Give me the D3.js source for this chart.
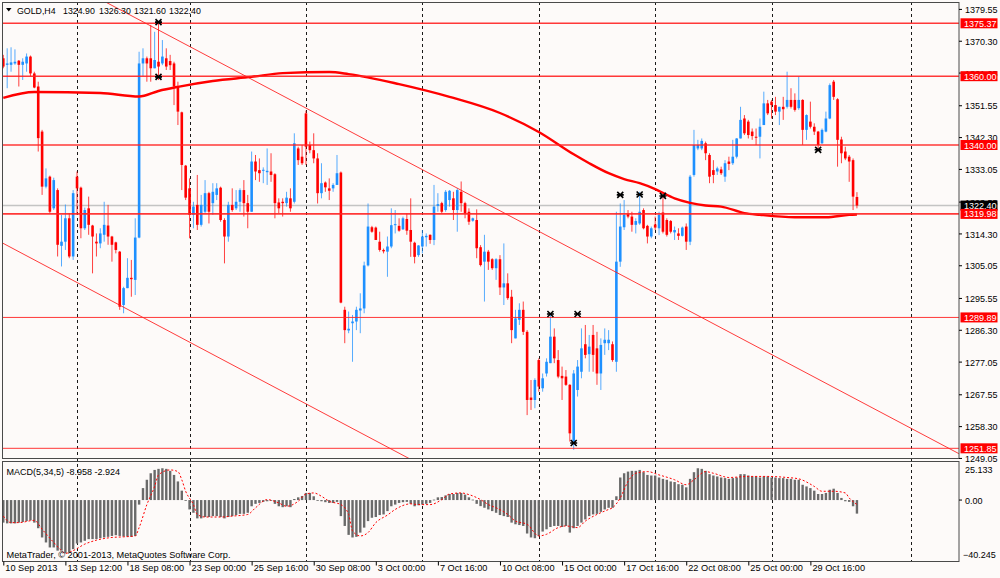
<!DOCTYPE html>
<html>
<head>
<meta charset="utf-8">
<script src="https://cdn.jsdelivr.net/npm/d3@7"></script>
<style>
    html, body { margin: 0; padding: 0; background: #fdfaf9; }
    svg { display: block; font-family: "Liberation Sans", Arial, sans-serif; }
</style>
</head>
<body>
<div id="chart"></div>
<script>
// ============================================================================
// GOLD,H4 - candles, MA, levels, channel and MACD(5,34,5) sub-window
// ============================================================================

// H4 candles, left to right (bar index = position in array)
const opens = [
    1365.2, 1363.3, 1363.3, 1363.7, 1364.5, 1363.3, 1363.7, 1365.7, 1360.8, 1357.0,
    1343.9, 1327.9, 1330.8, 1321.6, 1326.9, 1310.7, 1311.9, 1318.7, 1307.6, 1330.8,
    1327.6, 1315.8, 1321.6, 1316.6, 1311.9, 1311.4, 1313.9, 1316.6, 1313.4, 1311.7,
    1309.0, 1293.5, 1298.4, 1301.4, 1300.8, 1313.1, 1363.7, 1365.2, 1365.2, 1362.3,
    1364.2, 1363.7, 1365.2, 1364.4, 1363.7, 1357.0, 1349.5, 1334.0, 1327.4, 1319.7,
    1322.6, 1316.8, 1320.6, 1326.0, 1323.1, 1325.5, 1327.6, 1318.2, 1313.4, 1322.6,
    1321.6, 1323.5, 1326.9, 1323.1, 1320.6, 1335.2, 1332.7, 1332.5, 1332.1, 1332.3,
    1331.5, 1323.3, 1323.5, 1323.1, 1324.5, 1323.5, 1339.0, 1336.6, 1349.2, 1340.0,
    1338.5, 1336.1, 1326.0, 1329.1, 1327.4, 1327.4, 1328.4, 1332.0, 1292.1, 1286.1,
    1288.2, 1288.7, 1291.9, 1292.5, 1305.0, 1316.1, 1316.0, 1311.9, 1309.5, 1309.0,
    1310.5, 1316.7, 1316.5, 1315.5, 1318.5, 1315.3, 1311.6, 1308.0, 1310.5, 1313.2,
    1313.9, 1312.4, 1322.3, 1323.1, 1321.1, 1324.0, 1324.5, 1321.1, 1326.4, 1323.1,
    1320.6, 1318.0, 1318.2, 1310.3, 1306.1, 1309.0, 1306.8, 1304.2, 1306.8, 1298.6,
    1299.8, 1295.9, 1283.8, 1289.2, 1292.1, 1285.7, 1266.6, 1265.9, 1277.5, 1269.3,
    1273.6, 1276.6, 1284.3, 1277.5, 1272.9, 1272.7, 1270.3, 1253.8, 1268.8, 1274.1,
    1282.1, 1279.2, 1284.8, 1280.9, 1273.6, 1282.4, 1282.4, 1282.1, 1277.0, 1306.1,
    1316.1, 1319.9, 1319.2, 1316.8, 1317.2, 1321.1, 1316.5, 1313.4, 1316.9, 1315.8,
    1320.4, 1318.2, 1317.9, 1314.6, 1314.3, 1313.6, 1316.3, 1311.9, 1331.3, 1339.0,
    1339.0, 1340.5, 1337.1, 1332.7, 1332.3, 1332.9, 1330.8, 1335.2, 1334.7, 1336.6,
    1341.9, 1347.7, 1346.8, 1343.9, 1342.4, 1342.4, 1345.8, 1352.1, 1352.6, 1351.6,
    1349.7, 1351.1, 1351.1, 1353.1, 1353.1, 1350.7, 1353.1, 1344.4, 1346.8, 1345.3,
    1343.9, 1340.5, 1343.9, 1347.7, 1358.4, 1353.3, 1341.6, 1338.1, 1336.6, 1335.6,
    1324.9
];
const highs = [
    1366.2, 1368.1, 1368.4, 1367.8, 1364.7, 1365.2, 1366.6, 1366.0, 1361.3, 1358.4,
    1344.4, 1333.2, 1331.1, 1330.5, 1327.4, 1319.7, 1322.7, 1320.2, 1326.9, 1332.3,
    1327.9, 1321.8, 1325.0, 1316.8, 1314.3, 1315.8, 1323.5, 1322.6, 1313.6, 1311.9,
    1309.2, 1298.8, 1307.1, 1306.6, 1318.7, 1367.1, 1368.1, 1365.7, 1374.9, 1372.9,
    1375.8, 1370.5, 1368.1, 1366.2, 1364.2, 1358.4, 1349.7, 1334.2, 1330.3, 1323.5,
    1331.3, 1325.5, 1329.8, 1326.4, 1328.9, 1328.9, 1327.9, 1318.7, 1323.5, 1327.4,
    1326.9, 1327.4, 1329.8, 1325.5, 1338.1, 1337.1, 1336.1, 1333.5, 1339.0, 1337.6,
    1331.8, 1324.5, 1324.5, 1326.4, 1327.4, 1343.4, 1339.5, 1340.0, 1350.0, 1341.0,
    1343.4, 1337.6, 1334.7, 1329.4, 1330.3, 1328.9, 1337.1, 1332.3, 1293.0, 1291.6,
    1290.6, 1293.0, 1296.9, 1306.1, 1323.0, 1316.5, 1316.3, 1314.8, 1309.9, 1313.4,
    1321.6, 1321.1, 1318.7, 1319.2, 1320.1, 1324.5, 1311.9, 1310.9, 1315.3, 1314.3,
    1314.0, 1328.4, 1326.0, 1323.5, 1326.9, 1326.9, 1326.4, 1327.4, 1329.4, 1323.5,
    1321.6, 1318.9, 1321.3, 1310.9, 1313.9, 1309.5, 1307.1, 1307.1, 1308.0, 1311.4,
    1302.7, 1297.9, 1292.1, 1294.0, 1294.5, 1286.2, 1271.7, 1272.2, 1278.0, 1273.6,
    1278.0, 1291.1, 1286.7, 1280.4, 1275.6, 1274.6, 1270.5, 1274.6, 1277.5, 1286.7,
    1287.7, 1284.8, 1287.7, 1285.7, 1283.8, 1286.7, 1286.2, 1282.9, 1320.6, 1323.0,
    1324.0, 1321.1, 1320.6, 1318.7, 1326.4, 1321.6, 1316.8, 1316.3, 1319.2, 1320.6,
    1325.5, 1318.7, 1318.2, 1316.3, 1315.8, 1316.3, 1317.2, 1331.3, 1344.4, 1341.5,
    1341.9, 1341.0, 1337.6, 1335.6, 1333.7, 1333.7, 1335.6, 1336.6, 1341.5, 1342.0,
    1351.1, 1348.7, 1347.3, 1344.8, 1344.8, 1347.7, 1355.5, 1353.1, 1353.1, 1354.0,
    1351.1, 1354.0, 1361.3, 1356.5, 1355.0, 1359.9, 1353.3, 1348.9, 1352.6, 1346.3,
    1344.1, 1344.8, 1349.7, 1357.9, 1358.9, 1353.6, 1342.4, 1339.5, 1337.1, 1336.1,
    1326.3
];
const lows = [
    1362.3, 1356.5, 1361.3, 1363.3, 1357.0, 1358.9, 1361.3, 1359.9, 1356.5, 1338.1,
    1325.5, 1327.4, 1320.2, 1321.1, 1307.6, 1304.7, 1309.5, 1307.1, 1306.6, 1319.7,
    1312.9, 1315.3, 1313.9, 1302.7, 1307.6, 1310.0, 1311.9, 1311.0, 1306.1, 1308.5,
    1292.1, 1291.1, 1298.4, 1295.9, 1296.4, 1312.9, 1359.9, 1358.4, 1358.4, 1362.3,
    1358.9, 1363.2, 1361.8, 1361.8, 1351.6, 1345.8, 1326.9, 1324.0, 1312.9, 1315.8,
    1315.3, 1316.3, 1320.2, 1317.2, 1319.7, 1324.0, 1317.7, 1305.6, 1311.9, 1320.6,
    1321.1, 1320.6, 1319.2, 1315.8, 1320.6, 1329.8, 1329.3, 1328.9, 1328.4, 1329.3,
    1318.7, 1320.2, 1319.2, 1322.1, 1320.6, 1323.0, 1334.2, 1334.2, 1334.2, 1337.6,
    1334.7, 1323.0, 1324.5, 1326.4, 1324.0, 1326.4, 1328.4, 1294.0, 1282.4, 1285.3,
    1277.0, 1286.2, 1285.3, 1291.1, 1304.7, 1314.5, 1312.4, 1309.0, 1308.5, 1301.7,
    1310.0, 1314.3, 1314.8, 1315.3, 1313.9, 1307.5, 1305.6, 1307.5, 1308.5, 1310.5,
    1311.3, 1310.9, 1320.6, 1320.1, 1320.6, 1322.1, 1318.2, 1314.8, 1320.6, 1318.7,
    1316.8, 1317.7, 1307.1, 1304.7, 1294.5, 1303.7, 1303.7, 1300.8, 1296.4, 1293.5,
    1295.0, 1282.4, 1283.8, 1287.7, 1284.8, 1261.5, 1263.0, 1263.5, 1268.3, 1268.3,
    1272.7, 1276.6, 1276.6, 1272.2, 1265.9, 1270.0, 1253.8, 1251.4, 1266.9, 1272.2,
    1278.0, 1274.1, 1274.1, 1270.3, 1268.8, 1279.0, 1280.4, 1277.0, 1274.1, 1304.6,
    1315.3, 1318.7, 1314.8, 1314.3, 1316.8, 1315.5, 1311.4, 1312.9, 1315.3, 1313.8,
    1314.3, 1313.4, 1314.3, 1312.4, 1312.4, 1313.4, 1309.5, 1310.9, 1330.8, 1338.5,
    1338.5, 1335.6, 1328.9, 1328.9, 1331.3, 1331.3, 1329.3, 1332.7, 1334.2, 1336.1,
    1341.9, 1342.9, 1341.9, 1341.5, 1340.0, 1336.1, 1345.8, 1348.7, 1347.7, 1348.7,
    1345.8, 1347.3, 1350.6, 1350.6, 1349.7, 1350.2, 1340.0, 1341.5, 1344.8, 1342.9,
    1338.5, 1340.3, 1343.7, 1347.5, 1353.1, 1333.7, 1334.7, 1335.6, 1329.3, 1321.1,
    1321.6
];
const closes = [
    1362.8, 1363.7, 1364.0, 1364.2, 1363.3, 1364.2, 1365.7, 1360.8, 1356.7, 1342.0,
    1327.9, 1330.3, 1320.6, 1329.8, 1311.0, 1311.9, 1318.7, 1307.6, 1326.0, 1327.4,
    1315.8, 1321.1, 1316.8, 1313.4, 1311.4, 1314.3, 1316.8, 1313.4, 1311.0, 1309.5,
    1293.0, 1298.4, 1301.4, 1301.0, 1313.1, 1363.7, 1365.2, 1363.7, 1362.3, 1364.7,
    1362.8, 1365.7, 1362.8, 1363.2, 1357.0, 1349.7, 1334.2, 1324.7, 1319.7, 1322.1,
    1316.8, 1322.6, 1326.0, 1320.6, 1326.4, 1327.4, 1318.2, 1313.4, 1322.6, 1321.1,
    1323.5, 1326.9, 1323.1, 1320.6, 1335.2, 1332.3, 1331.8, 1332.8, 1332.5, 1331.3,
    1323.1, 1321.6, 1323.1, 1324.7, 1321.6, 1340.5, 1335.6, 1334.7, 1339.5, 1338.5,
    1336.1, 1326.0, 1328.9, 1327.7, 1326.7, 1328.4, 1331.8, 1294.2, 1286.2, 1286.6,
    1288.7, 1292.1, 1292.5, 1305.0, 1316.3, 1314.8, 1312.4, 1309.5, 1309.1, 1310.5,
    1316.7, 1317.0, 1315.1, 1318.7, 1315.1, 1311.9, 1307.5, 1310.8, 1313.4, 1313.6,
    1312.4, 1322.1, 1322.8, 1320.6, 1326.4, 1326.7, 1321.1, 1326.9, 1323.1, 1320.1,
    1317.7, 1318.7, 1310.0, 1305.1, 1309.0, 1306.1, 1304.2, 1306.8, 1298.6, 1299.8,
    1295.5, 1286.2, 1289.6, 1292.1, 1285.7, 1265.9, 1265.9, 1271.7, 1269.8, 1272.2,
    1277.0, 1284.3, 1278.0, 1272.7, 1272.2, 1270.3, 1256.2, 1273.6, 1275.6, 1280.9,
    1279.0, 1281.4, 1279.0, 1273.6, 1281.9, 1283.4, 1283.4, 1277.5, 1306.1, 1316.3,
    1319.7, 1319.2, 1316.8, 1317.9, 1320.6, 1315.8, 1313.4, 1315.8, 1316.0, 1319.7,
    1314.8, 1313.9, 1314.8, 1315.3, 1313.6, 1316.0, 1311.9, 1330.8, 1340.0, 1340.0,
    1341.2, 1337.6, 1330.8, 1331.3, 1333.2, 1331.8, 1334.7, 1334.5, 1336.6, 1341.9,
    1347.3, 1343.4, 1342.9, 1342.6, 1342.2, 1345.3, 1352.1, 1349.2, 1351.6, 1349.7,
    1351.1, 1350.4, 1353.1, 1351.1, 1350.2, 1353.1, 1344.4, 1348.7, 1345.3, 1343.9,
    1340.0, 1344.4, 1347.7, 1357.4, 1354.0, 1341.5, 1337.6, 1336.1, 1335.2, 1325.0,
    1322.4
];

// MACD(5,34,5) histogram, one value per bar
const macdHist = [
    -14.9, -15.4, -15.4, -15.4, -14.9, -14.5, -13.9, -13.4, -14.9, -18.6,
    -24.7, -28.0, -31.3, -31.3, -33.4, -33.4, -35.2, -34.6, -32.4, -28.7,
    -28.0, -26.9, -25.8, -25.8, -25.8, -25.2, -24.7, -24.3, -23.7, -23.2,
    -23.7, -24.1, -24.1, -24.3, -23.7, -3.0, 7.9, 13.4, 17.7, 19.9,
    20.6, 21.0, 20.6, 19.3, 16.6, 12.3, 6.2, -0.3, -6.2, -8.4,
    -12.1, -12.1, -11.2, -11.2, -10.6, -10.6, -11.2, -12.1, -11.2, -10.6,
    -9.9, -9.1, -9.1, -8.4, -4.1, -2.5, -1.9, -1.2, -0.8, -0.3,
    -2.5, -4.1, -4.7, -4.1, -4.7, 0.7, 1.8, 2.7, 4.7, 4.7,
    2.5, -0.3, -0.8, -1.4, -1.9, -1.9, -1.2, -10.6, -17.1, -23.0,
    -24.7, -24.3, -21.5, -18.2, -13.9, -11.7, -11.2, -9.9, -9.5, -7.3,
    -4.1, -3.0, -1.9, -1.4, -1.2, -2.5, -4.1, -3.4, -3.0, -2.5,
    -1.9, 0.3, 1.8, 2.0, 3.1, 4.0, 4.0, 4.7, 4.7, 3.6,
    1.8, 0.3, -2.5, -4.0, -5.1, -6.2, -7.3, -8.4, -9.9, -10.6,
    -11.2, -14.9, -16.0, -16.5, -17.1, -22.1, -24.7, -25.2, -23.7, -20.8,
    -19.3, -17.8, -17.1, -17.1, -17.8, -17.1, -21.5, -18.6, -17.1, -14.9,
    -12.8, -10.6, -9.5, -9.1, -7.8, -6.2, -5.1, -5.1, 2.5, 14.9,
    17.7, 18.8, 19.3, 19.3, 19.9, 18.4, 16.6, 16.2, 16.2, 14.9,
    14.0, 13.4, 12.3, 11.9, 10.5, 10.1, 8.4, 14.0, 18.4, 21.0,
    20.6, 19.3, 17.1, 16.2, 15.6, 14.9, 14.5, 14.0, 14.5, 14.9,
    17.1, 17.1, 16.2, 15.6, 15.6, 14.9, 15.6, 15.6, 14.9, 14.9,
    14.5, 14.5, 14.0, 14.0, 13.4, 13.4, 10.1, 9.0, 7.9, 6.2,
    4.0, 4.0, 4.7, 6.8, 7.5, 4.7, 1.4, -0.8, -1.2, -4.1,
    -8.958
];

// MACD signal line, read at these bars
const signalIdx = [0, 2, 4, 8, 10, 13, 15, 16, 18, 21, 24, 28, 31, 34, 35, 37, 39, 40, 43, 45,
    46, 47, 49, 50, 52, 56, 59, 63, 65, 68, 71, 73, 76, 78, 80, 82, 84, 87, 89, 90,
    92, 94, 96, 99, 101, 105, 107, 110, 113, 115, 118, 120, 123, 125, 127, 130, 132, 135, 138, 140,
    143, 145, 148, 150, 153, 156, 157, 159, 161, 163, 166, 169, 173, 176, 178, 181, 183, 187, 192, 197,
    202, 205, 209, 211, 214, 217, 218, 220];
const signalVal = [-10.6, -14.9, -14.9, -13.4, -19.3, -28.0, -33.4, -35.2, -33.4, -29.1, -26.5, -24.7, -24.3, -23.7, -18.2, -3.0, 9.0, 16.6, 19.9, 18.8,
    13.4, 5.8, -3.0, -9.5, -11.2, -11.2, -10.6, -9.5, -5.1, 0.3, -1.9, -4.1, -0.8, 4.0, 4.7, 2.5, -0.8, -3.0, -9.5, -20.4,
    -23.7, -21.5, -14.9, -9.9, -6.2, -2.5, -3.0, -3.0, 0.3, 4.0, 4.7, 3.6, 0.3, -3.0, -5.1, -9.5, -13.9, -16.0, -23.7, -22.6,
    -18.2, -17.1, -18.2, -13.9, -9.5, -6.2, -5.1, 1.4, 12.3, 17.7, 18.8, 16.6, 13.4, 10.1, 13.4, 18.8, 17.7, 14.9, 15.6, 15.6,
    14.9, 14.0, 9.0, 5.8, 5.8, 4.7, 1.4, -2.924];

// Moving average (thick red), read at these bars
const maIdx = [0, 8, 25, 35, 40, 45, 54, 64, 72, 84, 89, 102, 115, 128, 138, 147, 151, 156, 160, 164,
    168, 173, 177, 181, 185, 191, 195, 204, 212, 218, 220];
const maVal = [1353.7, 1355.4, 1355.1, 1354.1, 1355.7, 1356.9, 1358.6, 1359.8, 1360.9, 1361.2, 1360.6, 1357.7, 1354.0, 1349.3, 1343.8, 1337.3, 1334.7, 1331.8, 1330.1, 1328.9,
    1327.2, 1324.5, 1323.2, 1322.4, 1322.1, 1320.2, 1319.7, 1319.0, 1319.0, 1319.7, 1319.8];

// Horizontal levels and bid
const levels = [1375.37, 1360.00, 1340.00, 1319.98, 1289.89, 1251.85];
const bid = 1322.40;

// Descending channel: two anchor points per line (bar, price)
const upperLineIdx = [36.5, 226];
const upperLinePrice = [1375.5, 1262.4];
const lowerLineIdx = [-0.85, 37.8];
const lowerLinePrice = [1311.9, 1288.8];

// Fractal marks (bar, price of the mark)
const fractalIdx = [40, 40, 141, 148, 147, 159, 164, 170, 210];
const fractalPrice = [1375.7, 1359.8, 1290.9, 1290.9, 1253.4, 1325.5, 1325.6, 1325.2, 1338.6];

// Header: symbol and last bar O H L C
const headerParts = ['GOLD,H4', '1324.90', '1326.30', '1321.60', '1322.40'];

// Axes
const priceTicks = [1379.55, 1370.30, 1361.05, 1351.55, 1342.30, 1333.05, 1323.55, 1314.30,
    1305.05, 1295.55, 1286.30, 1277.05, 1267.55, 1258.30, 1249.05];
const timeIdx = [0, 16, 32, 48, 64, 80, 96, 112, 128, 144, 160, 176, 192, 208];
const timeLabels = ['10 Sep 2013', '13 Sep 12:00', '18 Sep 08:00', '23 Sep 00:00', '25 Sep 16:00',
    '30 Sep 08:00', '3 Oct 00:00', '7 Oct 16:00', '10 Oct 08:00', '15 Oct 00:00', '17 Oct 16:00',
    '22 Oct 08:00', '25 Oct 00:00', '29 Oct 16:00'];
const gridIdx = [19, 48, 78, 108, 138, 168, 198, 234];
const macdMax = 25.133;
const macdMin = -40.245;

// ----------------------------------------------------------------------------
const width = 1000, height = 578;
const left = 2, right = 959;
const mainTop = 2, mainBottom = 458.5;
const subTop = 461, subBottom = 561.5;
const FONT = 9;
const FONT_FAMILY = '"Liberation Sans", Arial, sans-serif';
const BULL = '#1e90ff', BEAR = '#ff0000';

const svg = d3.select('#chart').append('svg')
    .attr('width', width)
    .attr('height', height);

svg.append('rect').attr('width', width).attr('height', height).attr('fill', '#fdfaf9');

const defs = svg.append('defs');
defs.append('clipPath').attr('id', 'clipMain').append('rect')
    .attr('x', left).attr('y', mainTop).attr('width', right - left).attr('height', mainBottom - mainTop);
defs.append('clipPath').attr('id', 'clipSub').append('rect')
    .attr('x', left).attr('y', subTop).attr('width', right - left).attr('height', subBottom - subTop);

const xScale = d3.scaleLinear().domain([-0.335, 246.3]).range([left, right]);
const yScale = d3.scaleLinear().domain([1248.89, 1381.56]).range([mainBottom, mainTop]);
const mScale = d3.scaleLinear().domain([macdMin, macdMax]).range([subBottom - 0.5, subTop + 1]);

// Vertical dotted grid through both windows
svg.append('g').selectAll('line')
    .data(gridIdx)
    .join('line')
    .attr('x1', d => Math.round(xScale(d)) + 0.5).attr('x2', d => Math.round(xScale(d)) + 0.5)
    .attr('y1', mainTop).attr('y2', subBottom)
    .attr('stroke', '#1a1a1a')
    .attr('stroke-width', 1)
    .attr('stroke-dasharray', '3,3');

const gMain = svg.append('g').attr('clip-path', 'url(#clipMain)');

// Bid line
gMain.append('line')
    .attr('x1', left).attr('x2', right)
    .attr('y1', yScale(bid)).attr('y2', yScale(bid))
    .attr('stroke', '#c4c4c4').attr('stroke-width', 1.4);

// Candles
const bars = d3.range(closes.length);
gMain.append('g').selectAll('line')
    .data(bars)
    .join('line')
    .attr('x1', i => xScale(i)).attr('x2', i => xScale(i))
    .attr('y1', i => yScale(highs[i])).attr('y2', i => yScale(lows[i]))
    .attr('stroke', i => closes[i] >= opens[i] ? BULL : BEAR)
    .attr('stroke-opacity', 0.75)
    .attr('stroke-width', 1);

gMain.append('g').selectAll('rect')
    .data(bars)
    .join('rect')
    .attr('x', i => xScale(i) - 1.3)
    .attr('width', 2.6)
    .attr('y', i => yScale(Math.max(opens[i], closes[i])))
    .attr('height', i => Math.max(1, Math.abs(yScale(opens[i]) - yScale(closes[i]))))
    .attr('fill', i => closes[i] >= opens[i] ? BULL : BEAR);

// Moving average
const maLine = d3.line()
    .x((d, i) => xScale(maIdx[i]))
    .y(d => yScale(d))
    .curve(d3.curveMonotoneX);
gMain.append('path')
    .datum(maVal)
    .attr('fill', 'none')
    .attr('stroke', '#ff0000')
    .attr('stroke-width', 2.4)
    .attr('d', maLine);

// Channel lines, extended over the whole window
const [k0, k1] = xScale.domain();
[[upperLineIdx, upperLinePrice], [lowerLineIdx, lowerLinePrice]].forEach(([ks, ps]) => {
    const slope = (ps[1] - ps[0]) / (ks[1] - ks[0]);
    const at = k => ps[0] + (k - ks[0]) * slope;
    gMain.append('line')
        .attr('x1', xScale(k0)).attr('y1', yScale(at(k0)))
        .attr('x2', xScale(k1)).attr('y2', yScale(at(k1)))
        .attr('stroke', '#ff1a1a')
        .attr('stroke-opacity', 0.85)
        .attr('stroke-width', 1);
});

// Horizontal levels
gMain.append('g').selectAll('line')
    .data(levels)
    .join('line')
    .attr('x1', left).attr('x2', right)
    .attr('y1', d => yScale(d)).attr('y2', d => yScale(d))
    .attr('stroke', '#ff2222')
    .attr('stroke-opacity', 0.9)
    .attr('stroke-width', (d, i) => i < 4 ? 1.6 : 1);

// Fractals
gMain.append('g').selectAll('path')
    .data(fractalIdx)
    .join('path')
    .attr('transform', (d, i) => `translate(${xScale(d)},${yScale(fractalPrice[i])})`)
    .attr('d', 'M-3,-3L3,3M3,-3L-3,3M-3.5,0L3.5,0')
    .attr('stroke', '#000')
    .attr('stroke-width', 1.6)
    .attr('fill', 'none');

// MACD window
const gSub = svg.append('g').attr('clip-path', 'url(#clipSub)');
gSub.append('g').selectAll('rect')
    .data(macdHist)
    .join('rect')
    .attr('x', (d, i) => xScale(i) - 1.2)
    .attr('width', 2.4)
    .attr('y', d => Math.min(mScale(d), mScale(0)))
    .attr('height', d => Math.max(0.8, Math.abs(mScale(d) - mScale(0))))
    .attr('fill', '#6a6a6a');

const sigLine = d3.line()
    .x((d, i) => xScale(signalIdx[i]))
    .y(d => mScale(d))
    .curve(d3.curveMonotoneX);
gSub.append('path')
    .datum(signalVal)
    .attr('fill', 'none')
    .attr('stroke', '#ff0000')
    .attr('stroke-width', 1)
    .attr('stroke-dasharray', '2,2')
    .attr('d', sigLine);

// Window borders
[[mainTop, mainBottom], [subTop, subBottom]].forEach(([t, b]) => {
    svg.append('rect')
        .attr('x', left + 0.5).attr('y', t + 0.5)
        .attr('width', right - left - 0.5).attr('height', b - t - 0.5)
        .attr('fill', 'none')
        .attr('stroke', '#4a4a4a')
        .attr('stroke-width', 1);
});

// Price axis
const yAxis = svg.append('g')
    .attr('transform', `translate(${right},0)`)
    .call(d3.axisRight(yScale).tickValues(priceTicks).tickSize(3).tickPadding(3).tickFormat(d3.format('.2f')));
yAxis.select('.domain').remove();
yAxis.selectAll('line').attr('stroke', '#000');
yAxis.selectAll('text')
    .attr('font-family', FONT_FAMILY)
    .attr('font-size', FONT)
    .attr('fill', '#000')
    .attr('dy', '0.4em');

// Level labels (drawn over the price scale, as the terminal does)
const labelBox = (g, value, bg) => {
    const y = yScale(value);
    g.append('rect')
        .attr('x', right + 1.5).attr('y', y - 5)
        .attr('width', 37).attr('height', 10)
        .attr('fill', bg);
    g.append('text')
        .attr('x', right + 5).attr('y', y + 3.5)
        .attr('font-size', FONT)
        .attr('fill', '#fff')
        .text(d3.format('.2f')(value));
};
const gLabels = svg.append('g');
labelBox(gLabels, bid, '#000');
levels.forEach(v => labelBox(gLabels, v, '#ff0000'));

// MACD axis
const mAxis = svg.append('g').attr('transform', `translate(${right},0)`);
mAxis.append('line')
    .attr('x1', 0).attr('x2', 3)
    .attr('y1', mScale(0)).attr('y2', mScale(0))
    .attr('stroke', '#000');
mAxis.append('text').attr('x', 6).attr('y', mScale(0) + 3.5).attr('font-size', FONT).text('0.00');
mAxis.append('text').attr('x', 6).attr('y', mScale(macdMax) + 10.5).attr('font-size', FONT).text(d3.format('.3f')(macdMax));
mAxis.append('text').attr('x', 4).attr('y', mScale(macdMin) - 3.5).attr('font-size', FONT).text(d3.format('.3f')(macdMin));

// Time axis
const xAxis = svg.append('g')
    .attr('transform', `translate(0,${subBottom})`)
    .call(d3.axisBottom(xScale).tickValues(timeIdx).tickSize(4).tickFormat((d, i) => timeLabels[i]));
xAxis.select('.domain').remove();
xAxis.selectAll('line').attr('stroke', '#000');
xAxis.selectAll('text')
    .attr('font-family', FONT_FAMILY)
    .attr('font-size', 9.2)
    .attr('fill', '#000')
    .attr('text-anchor', 'start')
    .attr('x', 1.5)
    .attr('y', 3)
    .attr('dy', '0.71em');

// Captions
svg.append('path')
    .attr('d', 'M6,8L11.5,8L8.75,11.5Z')
    .attr('fill', '#000');
const header = svg.append('text')
    .attr('y', 13.5)
    .attr('font-size', 8.8);
const headerX = [17, 63, 99, 134, 169];
header.selectAll('tspan')
    .data(headerParts)
    .join('tspan')
    .attr('x', (d, i) => headerX[i])
    .text(d => d);
svg.append('text')
    .attr('x', 6.5).attr('y', 475)
    .attr('font-size', FONT)
    .text('MACD(5,34,5) -8.958 -2.924');
svg.append('text')
    .attr('x', 6.5).attr('y', 557.5)
    .attr('font-size', 9.2)
    .text('MetaTrader, \u00a9 2001-2013, MetaQuotes Software Corp.');
</script>
</body>
</html>
